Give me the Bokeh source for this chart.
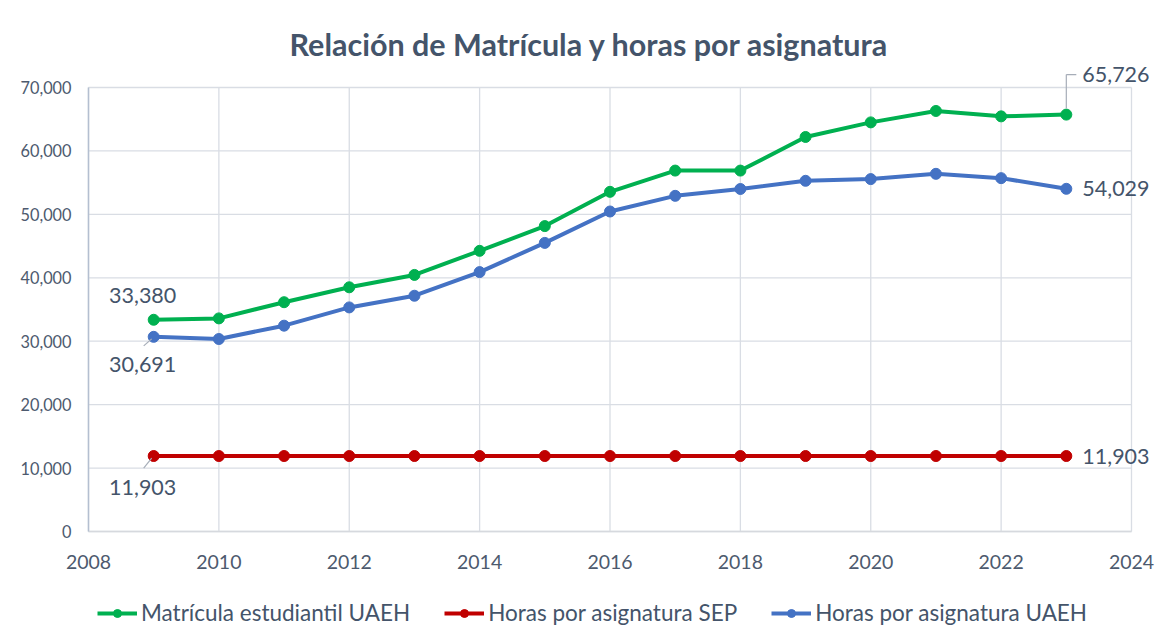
from bokeh.plotting import figure
from bokeh.models import (Range1d, FixedTicker, NumeralTickFormatter, Legend,
                          LegendItem, ColumnDataSource, LabelSet, Arrow)
from bokeh.core.properties import value
from bokeh.embed import file_html
from bokeh.resources import INLINE

# ---- data ----
years = list(range(2009, 2024))
matricula_uaeh = [33380, 33600, 36150, 38500, 40450, 44250, 48150, 53550,
                  56900, 56900, 62200, 64500, 66300, 65450, 65726]
horas_sep = [11903, 11903, 11903, 11903, 11903, 11903, 11903, 11903,
             11903, 11903, 11903, 11903, 11903, 11903, 11903]
horas_uaeh = [30691, 30350, 32450, 35330, 37170, 40900, 45500, 50450,
              52920, 54000, 55290, 55560, 56390, 55710, 54029]
series_names = ["Matrícula estudiantil UAEH", "Horas por asignatura SEP",
                "Horas por asignatura UAEH"]
series_colors = ["#00B050", "#C00000", "#4472C4"]
x_ticks = [2008, 2010, 2012, 2014, 2016, 2018, 2020, 2022, 2024]
y_ticks = [0, 10000, 20000, 30000, 40000, 50000, 60000, 70000]
title_text = "Relación de Matrícula y horas por asignatura"

FONT = "Lato"
TXT = "#44546A"
TICK = "#4d5a6e"
GRID = "#d9dde4"

# ---- geometry (pixels) ----
W, H = 1160, 627
AX_L, AX_R = 88, 1131      # pixel x of first / last x tick
AX_B, AX_T = 531, 87       # pixel y of first / last y tick
BL, BR, BT, BB = 0, 0, 62, 0
XA, XB = x_ticks[0], x_ticks[-1]
YA, YB = y_ticks[0], y_ticks[-1]
ppx = (AX_R - AX_L) / (XB - XA)     # px per year
ppy = (AX_B - AX_T) / (YB - YA)     # px per unit
X0 = XA - (AX_L - BL) / ppx
X1 = XB + (W - BR - AX_R) / ppx
Y1 = YB + (AX_T - BT) / ppy
Y0 = YA - ((H - BB) - AX_B) / ppy
dx, dy = 1 / ppx, 1 / ppy

p = figure(width=W, height=H, output_backend="svg", toolbar_location=None,
           x_range=Range1d(X0, X1), y_range=Range1d(Y0, Y1),
           min_border_left=BL, min_border_right=BR, min_border_top=BT,
           min_border_bottom=BB)
p.outline_line_color = None
p.background_fill_color = "white"
p.border_fill_color = "white"
p.grid.visible = False

p.title.text = title_text
p.title.align = "left"
p.title.offset = 289
p.title.text_font = FONT
p.title.text_font_size = "30.5px"
p.title.text_font_style = "bold"
p.title.text_color = TXT
p.title.standoff = 1

# axes (floating inside the frame, limited to the tick span)
p.xaxis.ticker = FixedTicker(ticks=x_ticks)
p.yaxis.ticker = FixedTicker(ticks=y_ticks)
p.xaxis.fixed_location = YA
p.yaxis.fixed_location = XA
p.xaxis.bounds = (XA, XB)
p.yaxis.bounds = (YA, YB)
p.yaxis.formatter = NumeralTickFormatter(format="0,0")
for ax in (p.xaxis, p.yaxis):
    ax.major_tick_line_color = None
    ax.minor_tick_line_color = None
    ax.major_label_text_font = FONT
    ax.major_label_text_color = TICK
p.xaxis.major_label_text_font_size = "19.5px"
p.yaxis.major_label_text_font_size = "16.3px"
p.xaxis.axis_line_color = "#d6d9de"
p.yaxis.axis_line_color = "#b4bfd0"
p.xaxis.axis_line_width = 1.5
p.yaxis.axis_line_width = 1.5
p.xaxis.major_label_standoff = 17
p.yaxis.major_label_standoff = 11

# gridlines within the axis bounds
p.segment(x0=x_ticks, y0=[YA] * len(x_ticks), x1=x_ticks, y1=[YB] * len(x_ticks),
          line_color=GRID, line_width=1.3)
p.segment(x0=[XA] * len(y_ticks), y0=y_ticks, x1=[XB] * len(y_ticks), y1=y_ticks,
          line_color=GRID, line_width=1.3)

items = []
for name, vals, col in zip(series_names, [matricula_uaeh, horas_sep, horas_uaeh], series_colors):
    src = ColumnDataSource(dict(x=years, y=vals))
    lr = p.line("x", "y", source=src, line_color=col, line_width=4)
    sr = p.scatter("x", "y", source=src, size=11, fill_color=col, line_color=col)
    items.append(LegendItem(label=name, renderers=[lr, sr]))

legend = Legend(items=items, orientation="horizontal", location=(AX_L - BL + 9, 1),
                label_text_font=FONT, label_text_font_size="22.5px",
                label_text_color=TXT, glyph_width=40, label_standoff=4,
                spacing=34, padding=3, border_line_color=None,
                background_fill_alpha=0)
p.add_layout(legend)

fmt = lambda v: "{:,}".format(v)

# left-side labels (first year)
left_src = ColumnDataSource(dict(
    x=[years[0]] * 3,
    y=[matricula_uaeh[0], horas_uaeh[0], horas_sep[0]],
    text=[fmt(matricula_uaeh[0]), fmt(horas_uaeh[0]), fmt(horas_sep[0])],
    yo=[24, -28, -31],
))
p.add_layout(LabelSet(x="x", y="y", text="text", source=left_src, x_offset=-11,
                      y_offset="yo", text_align="center", text_baseline="middle",
                      text_font=value(FONT), text_font_size="21.5px", text_color=TXT))

# right-side labels (last year)
right_src = ColumnDataSource(dict(
    x=[years[-1]] * 3,
    y=[matricula_uaeh[-1], horas_uaeh[-1], horas_sep[-1]],
    text=[fmt(matricula_uaeh[-1]), fmt(horas_uaeh[-1]), fmt(horas_sep[-1])],
    yo=[40, 0, 0],
))
p.add_layout(LabelSet(x="x", y="y", text="text", source=right_src, x_offset=16,
                      y_offset="yo", text_align="left", text_baseline="middle",
                      text_font=value(FONT), text_font_size="21.5px", text_color=TXT))

# leader lines
lc = "#a6adb8"
for v, oy in [(horas_uaeh[0], 9), (horas_sep[0], 12)]:
    p.add_layout(Arrow(end=None, x_start=years[0] - 2 * dx, y_start=v - 2 * dy,
                       x_end=years[0] - 10 * dx, y_end=v - oy * dy,
                       line_color=lc, line_width=1.2))
v = matricula_uaeh[-1]
p.add_layout(Arrow(end=None, x_start=years[-1], y_start=v + 6 * dy,
                   x_end=years[-1], y_end=v + 40 * dy, line_color=lc, line_width=1.2))
p.add_layout(Arrow(end=None, x_start=years[-1], y_start=v + 40 * dy,
                   x_end=years[-1] + 10 * dx, y_end=v + 40 * dy, line_color=lc, line_width=1.2))

open("out.html", "w").write(file_html(p, INLINE))
